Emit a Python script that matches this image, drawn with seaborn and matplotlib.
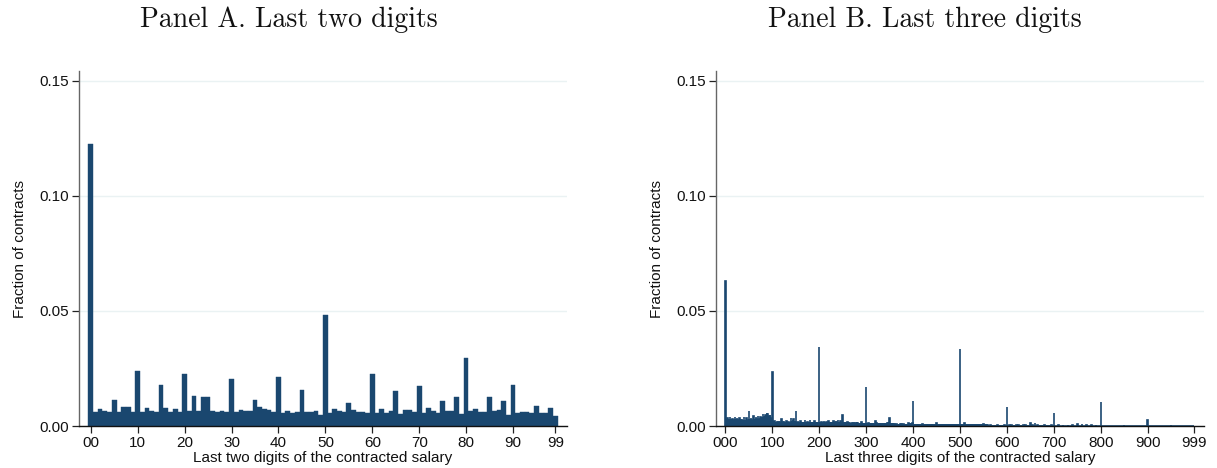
import numpy as np
import pandas as pd
import matplotlib
matplotlib.use("Agg")
import matplotlib.pyplot as plt
import seaborn as sns

# ---------------- Data ----------------
# Panel A: fraction of contracts by last two digits (00..99)
digits_a = list(range(100))
frac_a = [
    0.1225, 0.0061, 0.0074, 0.0067, 0.0061, 0.0113, 0.0061, 0.0084, 0.0084, 0.0061,
    0.0240, 0.0061, 0.0080, 0.0067, 0.0061, 0.0178, 0.0080, 0.0061, 0.0074, 0.0061,
    0.0226, 0.0065, 0.0130, 0.0065, 0.0126, 0.0126, 0.0065, 0.0060, 0.0065, 0.0060,
    0.0204, 0.0060, 0.0070, 0.0065, 0.0065, 0.0113, 0.0084, 0.0074, 0.0070, 0.0060,
    0.0213, 0.0057, 0.0065, 0.0058, 0.0062, 0.0157, 0.0061, 0.0061, 0.0065, 0.0049,
    0.0483, 0.0058, 0.0074, 0.0067, 0.0062, 0.0101, 0.0071, 0.0062, 0.0062, 0.0058,
    0.0228, 0.0058, 0.0072, 0.0055, 0.0067, 0.0154, 0.0054, 0.0071, 0.0071, 0.0060,
    0.0175, 0.0058, 0.0080, 0.0067, 0.0055, 0.0107, 0.0067, 0.0067, 0.0125, 0.0054,
    0.0297, 0.0064, 0.0072, 0.0059, 0.0062, 0.0128, 0.0067, 0.0071, 0.0110, 0.0049,
    0.0180, 0.0057, 0.0059, 0.0062, 0.0055, 0.0088, 0.0058, 0.0055, 0.0078, 0.0045,
]
ticks_a = [0, 10, 20, 30, 40, 50, 60, 70, 80, 90, 99]
ticklabels_a = ["00", "10", "20", "30", "40", "50", "60", "70", "80", "90", "99"]

# Panel B: fraction of contracts by last three digits (000..999), in units of 1e-4
digits_b = list(range(1000))
frac_b_e4 = [
    # 000-099
    630, 28, 22, 30, 25, 35, 24, 27, 22, 26,
    40, 22, 30, 24, 20, 32, 22, 24, 20, 22,
    38, 20, 26, 22, 24, 34, 22, 20, 24, 20,
    36, 22, 24, 20, 22, 30, 20, 22, 24, 20,
    40, 22, 26, 20, 24, 34, 22, 20, 22, 24,
    67, 24, 22, 26, 20, 36, 24, 22, 20, 26,
    42, 24, 28, 22, 26, 38, 30, 28, 26, 30,
    44, 28, 32, 30, 28, 40, 32, 34, 30, 36,
    52, 36, 40, 38, 42, 48, 40, 38, 44, 56,
    50, 40, 38, 44, 42, 46, 36, 34, 30, 32,
    # 100-199
    235, 16, 14, 18, 12, 20, 14, 12, 16, 12,
    22, 14, 12, 16, 12, 18, 12, 14, 12, 12,
    30, 14, 16, 12, 14, 20, 12, 12, 14, 12,
    22, 12, 14, 12, 12, 18, 14, 12, 12, 14,
    35, 16, 20, 18, 24, 30, 18, 16, 14, 16,
    64, 16, 14, 18, 12, 20, 14, 12, 14, 12,
    22, 12, 14, 12, 12, 18, 12, 14, 12, 12,
    24, 12, 14, 12, 12, 16, 12, 12, 14, 12,
    26, 14, 12, 12, 14, 18, 12, 12, 12, 14,
    22, 12, 14, 12, 12, 16, 12, 12, 14, 12,
    # 200-299
    345, 14, 12, 12, 14, 16, 12, 12, 12, 12,
    22, 12, 12, 14, 12, 16, 12, 12, 12, 12,
    22, 12, 14, 12, 12, 16, 12, 12, 12, 12,
    20, 12, 12, 14, 12, 18, 14, 16, 12, 14,
    28, 14, 16, 14, 12, 20, 12, 12, 12, 12,
    48, 14, 12, 12, 12, 14, 12, 10, 12, 10,
    16, 10, 12, 10, 10, 14, 10, 10, 12, 10,
    18, 10, 10, 12, 10, 14, 10, 10, 10, 12,
    16, 10, 12, 10, 10, 14, 10, 10, 10, 10,
    16, 10, 10, 12, 10, 14, 10, 10, 10, 10,
    # 300-399
    170, 10, 8, 8, 10, 12, 8, 8, 8, 8,
    12, 8, 8, 10, 8, 10, 8, 8, 8, 8,
    22, 10, 12, 10, 8, 12, 8, 8, 8, 8,
    12, 8, 8, 8, 8, 10, 8, 8, 8, 8,
    12, 8, 8, 10, 8, 12, 10, 10, 12, 14,
    36, 12, 10, 8, 8, 12, 8, 8, 8, 8,
    10, 6, 8, 6, 6, 8, 6, 6, 6, 6,
    10, 6, 6, 8, 6, 8, 6, 6, 6, 6,
    10, 6, 6, 6, 6, 8, 6, 6, 6, 6,
    12, 6, 8, 6, 6, 10, 6, 8, 10, 12,
    # 400-499
    110, 6, 5, 5, 6, 6, 5, 5, 5, 5,
    10, 5, 5, 5, 5, 6, 5, 5, 5, 5,
    10, 5, 5, 5, 5, 6, 5, 5, 5, 5,
    10, 5, 5, 5, 5, 6, 5, 5, 5, 5,
    8, 5, 5, 5, 5, 6, 5, 5, 5, 5,
    14, 5, 4, 4, 4, 5, 4, 4, 4, 4,
    4, 3, 3, 3, 3, 4, 3, 3, 3, 3,
    4, 3, 3, 3, 3, 4, 3, 3, 3, 3,
    4, 3, 3, 3, 3, 4, 3, 3, 3, 3,
    4, 3, 3, 3, 3, 4, 3, 3, 3, 3,
    # 500-599
    333, 4, 3, 3, 3, 4, 3, 3, 3, 3,
    14, 3, 3, 3, 3, 4, 3, 3, 3, 3,
    6, 3, 3, 3, 3, 4, 3, 3, 3, 3,
    6, 3, 3, 3, 3, 4, 3, 3, 3, 3,
    6, 3, 3, 3, 3, 4, 3, 3, 3, 3,
    8, 3, 3, 3, 3, 4, 3, 3, 3, 3,
    6, 2, 2, 2, 2, 3, 2, 2, 2, 2,
    5, 2, 2, 2, 2, 3, 2, 2, 2, 2,
    5, 2, 2, 2, 2, 3, 2, 2, 2, 2,
    4, 2, 2, 2, 2, 3, 2, 2, 2, 2,
    # 600-699
    83, 2, 2, 2, 2, 3, 2, 2, 2, 2,
    4, 2, 2, 2, 2, 3, 2, 2, 2, 2,
    6, 2, 2, 2, 2, 3, 2, 2, 2, 2,
    4, 2, 2, 2, 2, 3, 2, 2, 2, 2,
    4, 2, 2, 2, 2, 3, 2, 2, 2, 2,
    14, 2, 2, 2, 2, 3, 2, 2, 2, 2,
    12, 2, 2, 2, 2, 3, 2, 2, 2, 2,
    4, 2, 2, 2, 2, 3, 2, 2, 2, 2,
    4, 2, 2, 2, 2, 3, 2, 2, 2, 2,
    4, 2, 2, 2, 2, 3, 2, 2, 2, 2,
    # 700-799
    58, 2, 2, 2, 2, 2, 2, 2, 2, 2,
    3, 2, 2, 2, 2, 2, 2, 2, 2, 2,
    6, 2, 2, 2, 2, 2, 2, 2, 2, 2,
    3, 2, 2, 2, 2, 2, 2, 2, 2, 2,
    3, 2, 2, 2, 2, 2, 2, 2, 2, 2,
    10, 2, 2, 2, 2, 2, 2, 2, 2, 2,
    8, 2, 2, 2, 2, 2, 2, 2, 2, 2,
    3, 2, 2, 2, 2, 2, 2, 2, 2, 2,
    3, 2, 2, 2, 2, 2, 2, 2, 2, 2,
    3, 2, 2, 2, 2, 2, 2, 2, 2, 2,
    # 800-899
    105, 2, 1, 1, 1, 2, 1, 1, 1, 1,
    2, 1, 1, 1, 1, 1, 1, 1, 1, 1,
    2, 1, 1, 1, 1, 1, 1, 1, 1, 1,
    2, 1, 1, 1, 1, 1, 1, 1, 1, 1,
    2, 1, 1, 1, 1, 1, 1, 1, 1, 1,
    5, 1, 1, 1, 1, 1, 1, 1, 1, 1,
    2, 1, 1, 1, 1, 1, 1, 1, 1, 1,
    2, 1, 1, 1, 1, 1, 1, 1, 1, 1,
    2, 1, 1, 1, 1, 1, 1, 1, 1, 1,
    2, 1, 1, 1, 1, 1, 1, 1, 1, 1,
    # 900-999
    25, 1, 1, 1, 1, 1, 1, 1, 1, 1,
    2, 1, 1, 1, 1, 1, 1, 1, 1, 1,
    2, 1, 1, 1, 1, 1, 1, 1, 1, 1,
    2, 1, 1, 1, 1, 1, 1, 1, 1, 1,
    2, 1, 1, 1, 1, 1, 1, 1, 1, 1,
    3, 1, 1, 1, 1, 1, 1, 1, 1, 1,
    2, 1, 1, 1, 1, 1, 1, 1, 1, 1,
    2, 1, 1, 1, 1, 1, 1, 1, 1, 1,
    2, 1, 1, 1, 1, 1, 1, 1, 1, 1,
    2, 1, 1, 1, 1, 1, 1, 1, 1, 1,
]
assert len(frac_b_e4) == 1000
frac_b = [v / 10000.0 for v in frac_b_e4]
ticks_b = [0, 100, 200, 300, 400, 500, 600, 700, 800, 900, 999]
ticklabels_b = ["000", "100", "200", "300", "400", "500", "600", "700", "800", "900", "999"]

yticks = [0.0, 0.05, 0.10, 0.15]
yticklabels = ["0.00", "0.05", "0.10", "0.15"]

titles = ["Panel A. Last two digits", "Panel B. Last three digits"]
xlabels = ["Last two digits of the contracted salary", "Last three digits of the contracted salary"]
ylabel = "Fraction of contracts"

# ---------------- Style ----------------
sns.set_style("white")
plt.rcParams["font.family"] = ["Liberation Sans", "DejaVu Sans"]

NAVY = "#1a476f"
GRID = "#eaf2f3"

fig = plt.figure(figsize=(12.17, 4.68), dpi=100)
W, H = 1217.0, 468.0
axA = fig.add_axes([79 / W, 1 - 426 / H, 488 / W, (426 - 71) / H])
axB = fig.add_axes([716 / W, 1 - 426 / H, 488 / W, (426 - 71) / H])

dfA = pd.DataFrame({"digit": digits_a, "frac": frac_a})
dfB = pd.DataFrame({"digit": digits_b, "frac": frac_b})

sns.barplot(data=dfA, x="digit", y="frac", native_scale=True, width=1.0,
            color=NAVY, saturation=1, errorbar=None, ax=axA,
            edgecolor=NAVY, linewidth=0.3)
sns.barplot(data=dfB, x="digit", y="frac", native_scale=True, width=1.0,
            color=NAVY, saturation=1, errorbar=None, ax=axB,
            edgecolor=NAVY, linewidth=1.2)

setups = [
    (axA, (-2.5, 101.5), ticks_a, ticklabels_a, 0, 289),
    (axB, (-20, 1020), ticks_b, ticklabels_b, 1, 925),
]
for ax, xlim, xt, xtl, i, tx in setups:
    ax.set_xlim(*xlim)
    ax.set_ylim(0, 0.1543)
    ax.set_yticks(yticks)
    ax.set_yticklabels(yticklabels)
    ax.set_xticks(xt)
    ax.set_xticklabels(xtl)
    ax.yaxis.grid(True, color=GRID, linewidth=1.0)
    ax.xaxis.grid(False)
    ax.set_axisbelow(True)
    for s in ["top", "right"]:
        ax.spines[s].set_visible(False)
    ax.spines["left"].set_color("#666666")
    ax.spines["left"].set_linewidth(1.0)
    ax.spines["bottom"].set_color("#111111")
    ax.spines["bottom"].set_linewidth(1.0)
    ax.tick_params(axis="both", which="major", direction="out", length=5,
                   width=0.9, color="#222222", labelsize=11, labelcolor="#111111",
                   bottom=True, left=True, pad=2)
    ax.set_xlabel(xlabels[i], fontsize=11, labelpad=1, color="#111111")
    ax.set_ylabel(ylabel, fontsize=11, labelpad=9, color="#111111")
    fig.text(tx / W, 1 - 20 / H, titles[i], ha="center", va="center",
             family="cmr10", fontsize=20, color="#111111")

fig.savefig("out.png", dpi=100)
